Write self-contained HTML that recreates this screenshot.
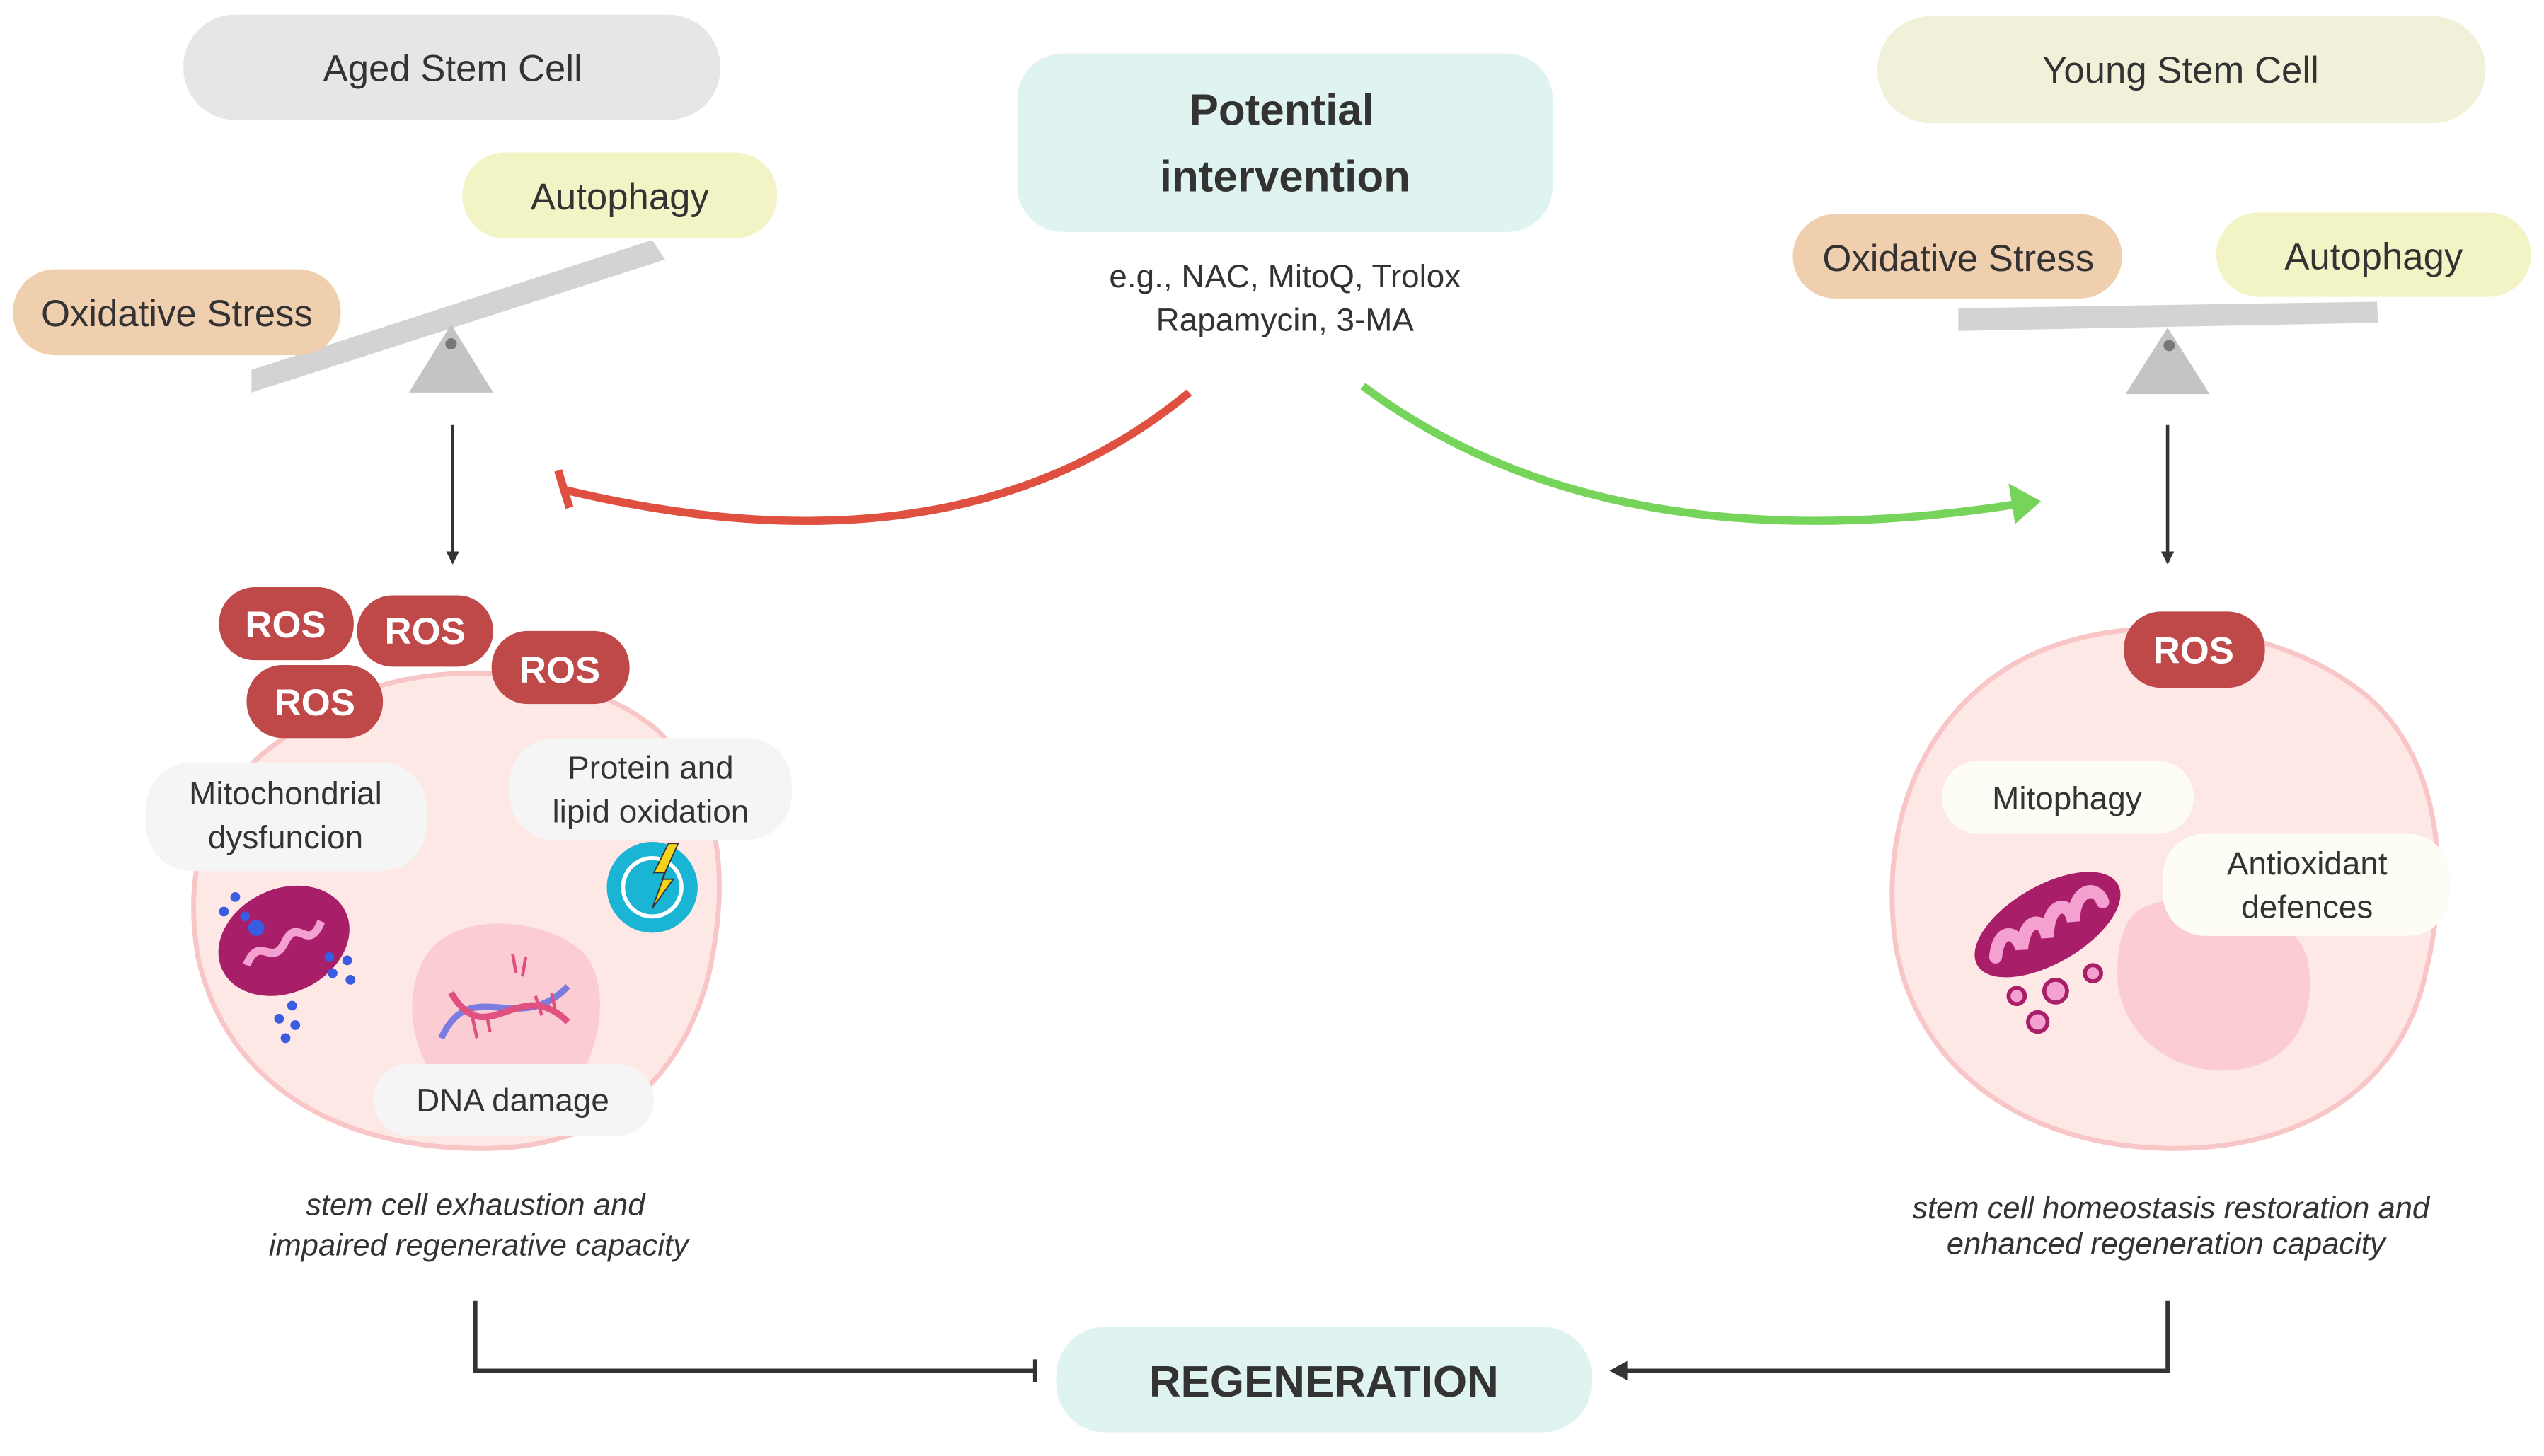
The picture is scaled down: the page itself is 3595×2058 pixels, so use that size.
<!DOCTYPE html>
<html><head><meta charset="utf-8"><style>
html,body{margin:0;padding:0;background:#fff;}
svg{display:block;}
text{font-family:"Liberation Sans",sans-serif;fill:#333;}
</style></head><body>
<svg width="3595" height="2058" viewBox="0 0 1568 897.6" preserveAspectRatio="none" xmlns="http://www.w3.org/2000/svg">
<defs>
<marker id="ah" markerWidth="8" markerHeight="8" refX="7" refY="4" orient="auto" markerUnits="userSpaceOnUse"><path d="M0,0 L8,4 L0,8 Z" fill="#333"/></marker>
</defs>
<!-- Left top -->
<rect x="113" y="9" width="331" height="65" rx="32" fill="#e6e6e6"/>
<text x="279" y="50" font-size="23" text-anchor="middle">Aged Stem Cell</text>
<polygon points="155,228 402,148 410,160 155,242" fill="#d3d3d3"/>
<polygon points="278,200 252,242 304,242" fill="#c4c4c4"/>
<circle cx="278" cy="212" r="3.5" fill="#777"/>
<rect x="285" y="94" width="194" height="53" rx="26" fill="#f2f4c6"/>
<text x="382" y="129" font-size="23" text-anchor="middle">Autophagy</text>
<rect x="8" y="166" width="202" height="53" rx="26" fill="#f0cfae"/>
<text x="109" y="201" font-size="23" text-anchor="middle">Oxidative Stress</text>
<line x1="279" y1="262" x2="279" y2="347" stroke="#333" stroke-width="2" marker-end="url(#ah)"/>

<!-- Center -->
<rect x="627" y="33" width="330" height="110" rx="28" fill="#dff3f0"/>
<text x="790" y="77" font-size="27" font-weight="bold" text-anchor="middle">Potential</text>
<text x="792" y="118" font-size="27" font-weight="bold" text-anchor="middle">intervention</text>
<text x="792" y="177" font-size="20" text-anchor="middle">e.g., NAC, MitoQ, Trolox</text>
<text x="792" y="204" font-size="20" text-anchor="middle">Rapamycin, 3-MA</text>
<path d="M733,242 Q590,360 348,302" fill="none" stroke="#e05040" stroke-width="5"/>
<line x1="344" y1="290" x2="351" y2="313" stroke="#e05040" stroke-width="5"/>
<path d="M840,238 Q990,350 1242,311" fill="none" stroke="#77d45a" stroke-width="5"/>
<polygon points="1258,309 1238,298 1242,323" fill="#77d45a"/>

<!-- Right top -->
<rect x="1157" y="10" width="375" height="66" rx="33" fill="#f1f1da"/>
<text x="1344" y="51" font-size="23" text-anchor="middle">Young Stem Cell</text>
<polygon points="1207,190 1465,186 1466,199 1207,204" fill="#d3d3d3"/>
<polygon points="1336,202 1310,243 1362,243" fill="#c4c4c4"/>
<circle cx="1337" cy="213" r="3.5" fill="#777"/>
<rect x="1105" y="132" width="203" height="52" rx="26" fill="#f0cfae"/>
<text x="1207" y="167" font-size="23" text-anchor="middle">Oxidative Stress</text>
<rect x="1366" y="131" width="194" height="52" rx="26" fill="#f2f4c6"/>
<text x="1463" y="166" font-size="23" text-anchor="middle">Autophagy</text>
<line x1="1336" y1="262" x2="1336" y2="347" stroke="#333" stroke-width="2" marker-end="url(#ah)"/>

<!-- Left cell -->
<path d="M175,455 C225,405 345,400 405,450 C445,490 450,540 437,600 C422,660 380,707 300,708 C210,709 140,670 122,590 C112,530 130,485 175,455 Z" fill="#fde8e6" stroke="#f8c6c6" stroke-width="3"/>
<path d="M262,590 C280,560 340,565 362,590 C375,610 370,640 360,660 L265,660 C252,640 250,610 262,590 Z" fill="#fbcdd2"/>
<path d="M272,640 C290,600 320,640 350,608" fill="none" stroke="#7b7be0" stroke-width="4"/>
<path d="M278,612 C300,650 320,600 350,630" fill="none" stroke="#e05080" stroke-width="4"/>
<g stroke="#e05080" stroke-width="2"><line x1="290" y1="622" x2="294" y2="640"/><line x1="300" y1="626" x2="302" y2="636"/><line x1="330" y1="614" x2="334" y2="626"/><line x1="340" y1="612" x2="342" y2="622"/><line x1="316" y1="588" x2="318" y2="600"/><line x1="324" y1="590" x2="322" y2="602"/></g>
<circle cx="402" cy="547" r="28" fill="#1ab4d4"/>
<circle cx="402" cy="547" r="18" fill="none" stroke="#fff" stroke-width="2.5"/>
<polygon points="418,520 408,542 415,542 402,560 410,538 403,538 412,520" fill="#f7d21a" stroke="#333" stroke-width="0.8"/>
<ellipse cx="175" cy="580" rx="42" ry="32" transform="rotate(-25 175 580)" fill="#a81e68"/>
<path d="M152,595 C160,575 168,598 176,580 C184,565 190,588 198,568" fill="none" stroke="#f4a0d0" stroke-width="5"/>
<g fill="#3a5ce0"><circle cx="158" cy="572" r="5"/><circle cx="145" cy="553" r="3"/><circle cx="138" cy="562" r="3"/><circle cx="151" cy="565" r="3"/><circle cx="203" cy="590" r="3"/><circle cx="214" cy="592" r="3"/><circle cx="205" cy="600" r="3"/><circle cx="216" cy="604" r="3"/><circle cx="180" cy="620" r="3"/><circle cx="172" cy="628" r="3"/><circle cx="182" cy="632" r="3"/><circle cx="176" cy="640" r="3"/></g>
<g fill="#bf4848">
<rect x="135" y="362" width="83" height="45" rx="22"/>
<rect x="220" y="367" width="84" height="44" rx="22"/>
<rect x="303" y="389" width="85" height="45" rx="22"/>
<rect x="152" y="410" width="84" height="45" rx="22"/>
</g>
<g font-size="23" font-weight="bold" text-anchor="middle">
<text x="176" y="393" style="fill:#fff">ROS</text>
<text x="262" y="397" style="fill:#fff">ROS</text>
<text x="345" y="421" style="fill:#fff">ROS</text>
<text x="194" y="441" style="fill:#fff">ROS</text>
</g>
<rect x="90" y="470" width="173" height="67" rx="28" fill="#f5f5f5"/>
<text x="176" y="496" font-size="20" text-anchor="middle">Mitochondrial</text>
<text x="176" y="523" font-size="20" text-anchor="middle">dysfuncion</text>
<rect x="314" y="455" width="174" height="63" rx="28" fill="#f5f5f5"/>
<text x="401" y="480" font-size="20" text-anchor="middle">Protein and</text>
<text x="401" y="507" font-size="20" text-anchor="middle">lipid oxidation</text>
<rect x="230" y="656" width="173" height="44" rx="22" fill="#f5f5f5"/>
<text x="316" y="685" font-size="20" text-anchor="middle">DNA damage</text>
<text x="293" y="749" font-size="19" font-style="italic" text-anchor="middle">stem cell exhaustion and</text>
<text x="295" y="774" font-size="19" font-style="italic" text-anchor="middle">impaired regenerative capacity</text>

<!-- Right cell -->
<path d="M1240,410 C1300,375 1400,380 1460,430 C1505,470 1510,540 1495,600 C1480,670 1420,708 1340,708 C1250,708 1180,660 1168,580 C1158,500 1190,440 1240,410 Z" fill="#fde8e6" stroke="#f8c6c6" stroke-width="3"/>
<path d="M1320,560 C1350,545 1410,555 1422,590 C1430,630 1410,660 1370,660 C1330,660 1305,630 1305,600 C1305,580 1310,565 1320,560 Z" fill="#fbcdd2"/>
<ellipse cx="1262" cy="570" rx="50" ry="24" transform="rotate(-30 1262 570)" fill="#a81e68"/>
<path d="M1230,590 C1232,570 1244,575 1246,585 C1248,565 1260,565 1262,578 C1262,555 1276,555 1278,568 C1278,548 1292,545 1296,556" fill="none" stroke="#f4a0d0" stroke-width="8" stroke-linecap="round"/>
<g fill="#f4a0d0" stroke="#a81e68" stroke-width="2.5"><circle cx="1243" cy="614" r="5"/><circle cx="1267" cy="611" r="7"/><circle cx="1290" cy="600" r="5"/><circle cx="1256" cy="630" r="6"/></g>
<rect x="1309" y="377" width="87" height="47" rx="23" fill="#bf4848"/>
<text x="1352" y="409" font-size="23" font-weight="bold" text-anchor="middle" style="fill:#fff">ROS</text>
<rect x="1197" y="469" width="155" height="45" rx="22" fill="#fdfdf5"/>
<text x="1274" y="499" font-size="20" text-anchor="middle">Mitophagy</text>
<rect x="1333" y="514" width="177" height="63" rx="26" fill="#fdfdf5"/>
<text x="1422" y="539" font-size="20" text-anchor="middle">Antioxidant</text>
<text x="1422" y="566" font-size="20" text-anchor="middle">defences</text>
<text x="1338" y="751" font-size="19" font-style="italic" text-anchor="middle">stem cell homeostasis restoration and</text>
<text x="1335" y="773" font-size="19" font-style="italic" text-anchor="middle">enhanced regeneration capacity</text>

<!-- Bottom -->
<rect x="651" y="818" width="330" height="65" rx="30" fill="#dff3f0"/>
<text x="816" y="861" font-size="27" font-weight="bold" text-anchor="middle">REGENERATION</text>
<polyline points="293,802 293,845 638,845" fill="none" stroke="#333" stroke-width="2.5"/>
<line x1="638" y1="838" x2="638" y2="852" stroke="#333" stroke-width="2.5"/>
<polyline points="1336,802 1336,845 1000,845" fill="none" stroke="#333" stroke-width="2.5"/>
<polygon points="992,845 1003,839 1003,851" fill="#333"/>
</svg>
</body></html>
